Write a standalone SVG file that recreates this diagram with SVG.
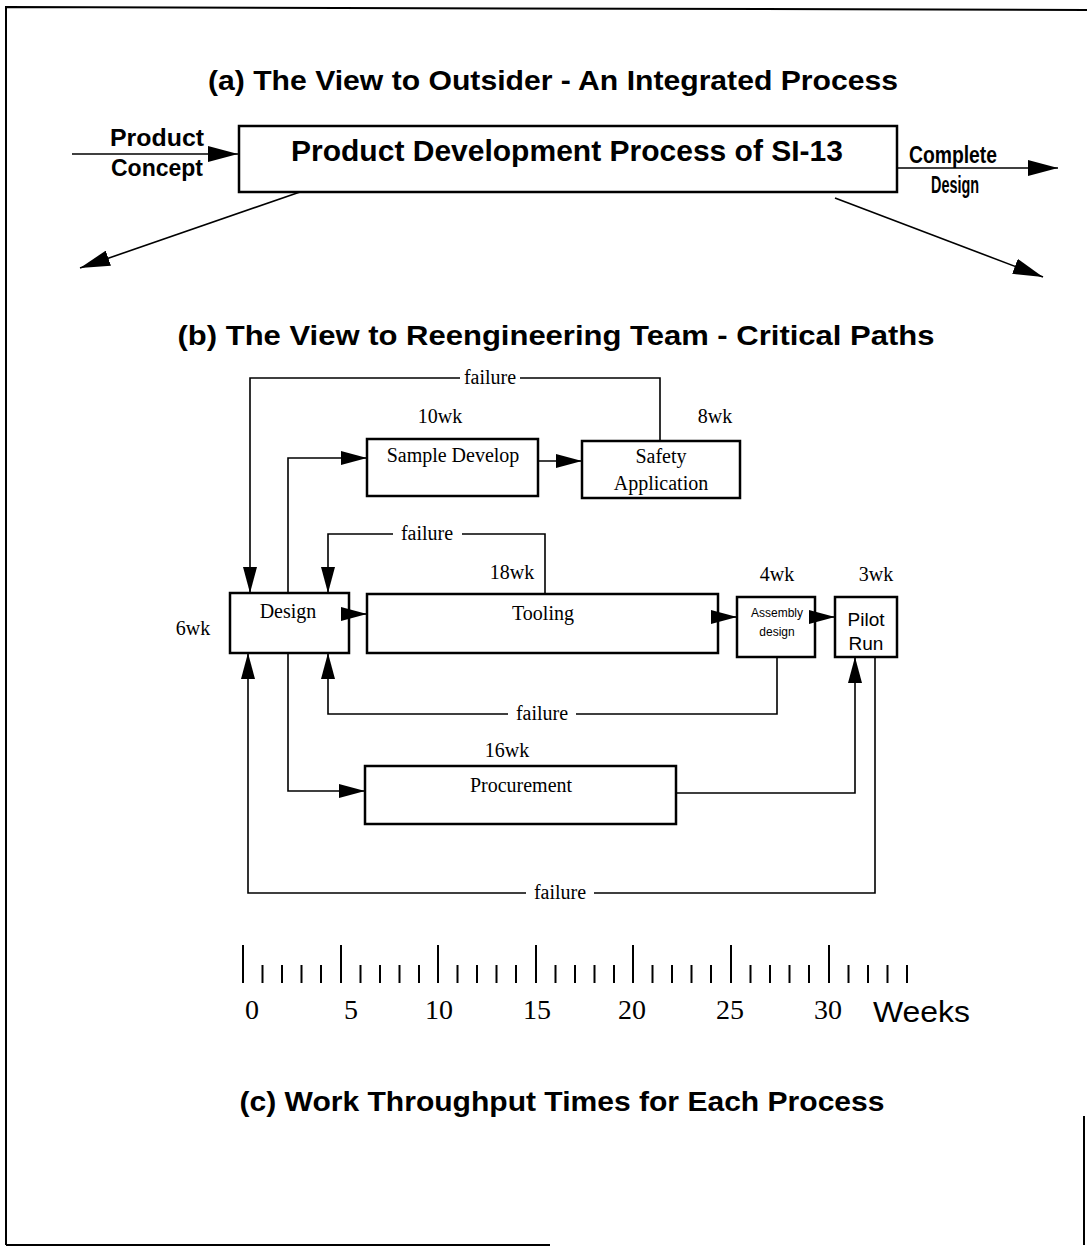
<svg xmlns="http://www.w3.org/2000/svg" width="1087" height="1254" viewBox="0 0 1087 1254">
  <style>
    .frame { fill: none; stroke: #000; stroke-width: 2; }
    .box { fill: #fff; stroke: #000; stroke-width: 2.5; }
    .conn { fill: none; stroke: #000; stroke-width: 1.6; }
    .tick { stroke: #000; stroke-width: 2; }
    .title { font-family: "Liberation Sans Narrow", "Liberation Sans", Arial, sans-serif; font-weight: bold; font-size: 28px; fill: #000; }
    .heavy { font-family: "Liberation Sans Narrow", "Liberation Sans", Arial, sans-serif; font-weight: bold; fill: #000; }
    .ser { font-family: "Liberation Serif", "Times New Roman", serif; font-size: 20px; fill: #000; }
    .num { font-family: "Liberation Serif", "Times New Roman", serif; font-size: 28px; fill: #000; }
    .sans { font-family: "Liberation Sans", Arial, sans-serif; fill: #000; }
  </style>
  <defs>
    <marker id="ah" markerUnits="userSpaceOnUse" markerWidth="28" markerHeight="14" refX="26" refY="7" orient="auto">
      <path d="M0,0 L26,7 L0,14 z" fill="#000"/>
    </marker>
    <marker id="ahBig" markerUnits="userSpaceOnUse" markerWidth="32" markerHeight="16" refX="30" refY="8" orient="auto">
      <path d="M0,0 L30,8 L0,16 z" fill="#000"/>
    </marker>
  </defs>

  <rect width="1087" height="1254" fill="#fff"/>

  <!-- page frame -->
  <g id="frame">
    <path class="frame" d="M6,1245 V7 L1087,10"/>
    <path class="frame" d="M6,1245 H550"/>
    <path class="frame" d="M1084,1116 V1245"/>
  </g>

  <!-- section titles -->
  <g id="titles">
    <text class="title" x="553" y="90" text-anchor="middle" textLength="690" lengthAdjust="spacingAndGlyphs">(a) The View to Outsider - An Integrated Process</text>
    <text class="title" x="556" y="345" text-anchor="middle" textLength="757" lengthAdjust="spacingAndGlyphs">(b) The View to Reengineering Team - Critical Paths</text>
    <text class="title" x="562" y="1111" text-anchor="middle" textLength="645" lengthAdjust="spacingAndGlyphs">(c) Work Throughput Times for Each Process</text>
  </g>

  <!-- (a) integrated process -->
  <g id="pdp">
    <rect class="box" x="239" y="126" width="658" height="66"/>
    <text class="heavy" x="567" y="161" font-size="30" text-anchor="middle" textLength="552" lengthAdjust="spacingAndGlyphs">Product Development Process of SI-13</text>
  </g>
  <g id="input-label">
    <text class="heavy" x="157" y="146" font-size="23" text-anchor="middle" textLength="94" lengthAdjust="spacingAndGlyphs">Product</text>
    <text class="heavy" x="157" y="176" font-size="23" text-anchor="middle" textLength="92" lengthAdjust="spacingAndGlyphs">Concept</text>
  </g>
  <g id="output-label">
    <text class="heavy" x="953" y="163" font-size="23" text-anchor="middle" textLength="88" lengthAdjust="spacingAndGlyphs">Complete</text>
    <text class="heavy" x="955" y="193" font-size="23" text-anchor="middle" textLength="48" lengthAdjust="spacingAndGlyphs">Design</text>
  </g>

  <!-- (b) critical path nodes -->
  <g id="sample-develop">
    <rect class="box" x="367" y="439" width="171" height="57"/>
    <text class="ser" x="453" y="462" text-anchor="middle">Sample Develop</text>
    <text class="ser" x="440" y="423" text-anchor="middle">10wk</text>
  </g>
  <g id="safety-application">
    <rect class="box" x="582" y="441" width="158" height="57"/>
    <text class="ser" x="661" y="463" text-anchor="middle">Safety</text>
    <text class="ser" x="661" y="490" text-anchor="middle">Application</text>
    <text class="ser" x="715" y="423" text-anchor="middle">8wk</text>
  </g>
  <g id="design">
    <rect class="box" x="230" y="593" width="119" height="60"/>
    <text class="ser" x="288" y="618" text-anchor="middle">Design</text>
    <text class="ser" x="193" y="635" text-anchor="middle">6wk</text>
  </g>
  <g id="tooling">
    <rect class="box" x="367" y="594" width="351" height="59"/>
    <text class="ser" x="543" y="620" text-anchor="middle">Tooling</text>
    <text class="ser" x="512" y="579" text-anchor="middle">18wk</text>
  </g>
  <g id="assembly-design">
    <rect class="box" x="737" y="597" width="78" height="60"/>
    <text class="sans" x="777" y="617" font-size="12" text-anchor="middle">Assembly</text>
    <text class="sans" x="777" y="636" font-size="12" text-anchor="middle">design</text>
    <text class="ser" x="777" y="581" text-anchor="middle">4wk</text>
  </g>
  <g id="pilot-run">
    <rect class="box" x="835" y="597" width="62" height="60"/>
    <text class="sans" x="866" y="626" font-size="19" text-anchor="middle">Pilot</text>
    <text class="sans" x="866" y="650" font-size="19" text-anchor="middle">Run</text>
    <text class="ser" x="876" y="581" text-anchor="middle">3wk</text>
  </g>
  <g id="procurement">
    <rect class="box" x="365" y="766" width="311" height="58"/>
    <text class="ser" x="521" y="792" text-anchor="middle">Procurement</text>
    <text class="ser" x="507" y="757" text-anchor="middle">16wk</text>
  </g>

  <!-- connectors -->
  <g id="connectors">
    <!-- (a) -->
    <path class="conn" d="M72,154 H238" marker-end="url(#ahBig)"/>
    <path class="conn" d="M897,168 H1058" marker-end="url(#ahBig)"/>
    <path class="conn" d="M300,192 L80,268" marker-end="url(#ahBig)"/>
    <path class="conn" d="M835,198 L1043,277" marker-end="url(#ahBig)"/>

    <!-- (b) forward flow -->
    <path class="conn" d="M288,593 V458 H367" marker-end="url(#ah)"/>
    <path class="conn" d="M538,461 H582" marker-end="url(#ah)"/>
    <path class="conn" d="M349,614 H367" marker-end="url(#ah)"/>
    <path class="conn" d="M718,617 H737" marker-end="url(#ah)"/>
    <path class="conn" d="M815,617 H835" marker-end="url(#ah)"/>
    <path class="conn" d="M288,653 V791 H365" marker-end="url(#ah)"/>
    <path class="conn" d="M676,793 H855 V657" marker-end="url(#ah)"/>

    <!-- (b) failure loops -->
    <path class="conn" d="M660,441 V378 H520 M460,378 H250 V593" marker-end="url(#ah)"/>
    <path class="conn" d="M545,594 V534 H462 M393,534 H328 V593" marker-end="url(#ah)"/>
    <path class="conn" d="M777,657 V714 H576 M508,714 H328 V653" marker-end="url(#ah)"/>
    <path class="conn" d="M875,657 V893 H594 M526,893 H248 V653" marker-end="url(#ah)"/>

    <text class="ser" x="490" y="384" text-anchor="middle">failure</text>
    <text class="ser" x="427" y="540" text-anchor="middle">failure</text>
    <text class="ser" x="542" y="720" text-anchor="middle">failure</text>
    <text class="ser" x="560" y="899" text-anchor="middle">failure</text>
  </g>

  <!-- (c) week scale -->
  <g id="week-scale">
    <g class="tick">
      <line x1="243" y1="945" x2="243" y2="983"/>
      <line x1="341" y1="945" x2="341" y2="983"/>
      <line x1="438" y1="945" x2="438" y2="983"/>
      <line x1="536" y1="945" x2="536" y2="983"/>
      <line x1="633" y1="945" x2="633" y2="983"/>
      <line x1="731" y1="945" x2="731" y2="983"/>
      <line x1="829" y1="945" x2="829" y2="983"/>

      <line x1="262.5" y1="965" x2="262.5" y2="983"/>
      <line x1="282" y1="965" x2="282" y2="983"/>
      <line x1="301.5" y1="965" x2="301.5" y2="983"/>
      <line x1="321" y1="965" x2="321" y2="983"/>
      <line x1="360.5" y1="965" x2="360.5" y2="983"/>
      <line x1="380" y1="965" x2="380" y2="983"/>
      <line x1="399.5" y1="965" x2="399.5" y2="983"/>
      <line x1="419" y1="965" x2="419" y2="983"/>
      <line x1="457.5" y1="965" x2="457.5" y2="983"/>
      <line x1="477" y1="965" x2="477" y2="983"/>
      <line x1="496.5" y1="965" x2="496.5" y2="983"/>
      <line x1="516" y1="965" x2="516" y2="983"/>
      <line x1="555.5" y1="965" x2="555.5" y2="983"/>
      <line x1="575" y1="965" x2="575" y2="983"/>
      <line x1="594.5" y1="965" x2="594.5" y2="983"/>
      <line x1="614" y1="965" x2="614" y2="983"/>
      <line x1="652.5" y1="965" x2="652.5" y2="983"/>
      <line x1="672" y1="965" x2="672" y2="983"/>
      <line x1="691.5" y1="965" x2="691.5" y2="983"/>
      <line x1="711" y1="965" x2="711" y2="983"/>
      <line x1="750.5" y1="965" x2="750.5" y2="983"/>
      <line x1="770" y1="965" x2="770" y2="983"/>
      <line x1="789.5" y1="965" x2="789.5" y2="983"/>
      <line x1="809" y1="965" x2="809" y2="983"/>
      <line x1="848.5" y1="965" x2="848.5" y2="983"/>
      <line x1="868" y1="965" x2="868" y2="983"/>
      <line x1="887.5" y1="965" x2="887.5" y2="983"/>
      <line x1="907" y1="965" x2="907" y2="983"/>
    </g>
    <g class="num" text-anchor="middle">
      <text x="252" y="1019">0</text>
      <text x="351" y="1019">5</text>
      <text x="439" y="1019">10</text>
      <text x="537" y="1019">15</text>
      <text x="632" y="1019">20</text>
      <text x="730" y="1019">25</text>
      <text x="828" y="1019">30</text>
    </g>
    <text class="sans" x="873" y="1022" font-size="29" textLength="97" lengthAdjust="spacingAndGlyphs">Weeks</text>
  </g>
</svg>
